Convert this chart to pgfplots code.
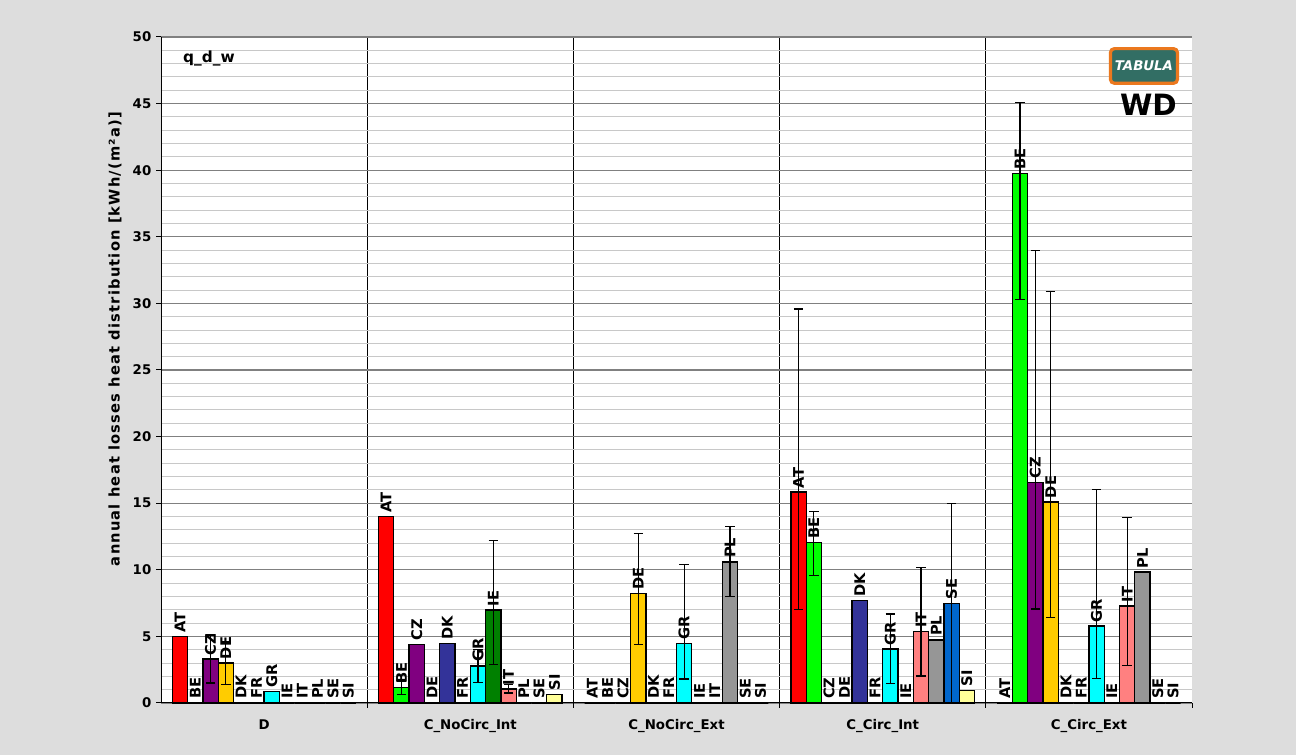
\documentclass[border=0pt]{standalone}
\usepackage{fontspec}
\setmainfont{DejaVu Sans}
\usepackage{pgfplots}
\pgfplotsset{compat=1.18}
\usepackage{pgfplotstable}

\definecolor{bgc}{RGB}{221,221,221}
\definecolor{cAT}{RGB}{255,0,0}
\definecolor{cBE}{RGB}{0,255,0}
\definecolor{cCZ}{RGB}{128,0,128}
\definecolor{cDE}{RGB}{255,204,0}
\definecolor{cDK}{RGB}{51,51,153}
\definecolor{cFR}{RGB}{255,102,0}
\definecolor{cGR}{RGB}{0,255,255}
\definecolor{cIE}{RGB}{0,128,0}
\definecolor{cIT}{RGB}{255,128,128}
\definecolor{cPL}{RGB}{150,150,150}
\definecolor{cSE}{RGB}{0,102,204}
\definecolor{cSI}{RGB}{255,255,153}
\definecolor{majgrid}{RGB}{128,128,128}
\definecolor{mingrid}{RGB}{200,200,200}
\definecolor{logobg}{RGB}{50,110,100}
\definecolor{logoedge}{RGB}{235,120,30}

% x = group (D, C_NoCirc_Int, C_NoCirc_Ext, C_Circ_Int, C_Circ_Ext)
\pgfplotstableread{
x y ep em
0 5.0 0 0
1 14.0 0 0
2 0 0 0
3 15.84 13.74 8.81
4 0 0 0
}\tabAT
\pgfplotstableread{
x y ep em
0 0 0 0
1 1.15 0.5 0.5
2 0 0 0
3 12.06 2.3 2.5
4 39.77 5.34 9.49
}\tabBE
\pgfplotstableread{
x y ep em
0 3.3 1.8 1.8
1 4.4 0 0
2 0 0 0
3 0 0 0
4 16.56 17.4 9.5
}\tabCZ
\pgfplotstableread{
x y ep em
0 3.0 1.6 1.6
1 0 0 0
2 8.21 4.5 3.83
3 0 0 0
4 15.08 15.84 8.65
}\tabDE
\pgfplotstableread{
x y ep em
0 0 0 0
1 4.48 0 0
2 0 0 0
3 7.68 0 0
4 0 0 0
}\tabDK
\pgfplotstableread{
x y ep em
0 0 0 0
1 0 0 0
2 0 0 0
3 0 0 0
4 0 0 0
}\tabFR
\pgfplotstableread{
x y ep em
0 0.85 0 0
1 2.78 1.25 1.25
2 4.48 5.9 2.68
3 4.05 2.63 2.58
4 5.77 10.25 3.92
}\tabGR
\pgfplotstableread{
x y ep em
0 0 0 0
1 6.98 5.2 4.1
2 0 0 0
3 0 0 0
4 0 0 0
}\tabIE
\pgfplotstableread{
x y ep em
0 0 0 0
1 1.05 0.35 0.3
2 0 0 0
3 5.35 4.81 3.32
4 7.27 6.63 4.46
}\tabIT
\pgfplotstableread{
x y ep em
0 0 0 0
1 0 0 0
2 10.59 2.67 2.58
3 4.73 0 0
4 9.83 0 0
}\tabPL
\pgfplotstableread{
x y ep em
0 0 0 0
1 0 0 0
2 0 0 0
3 7.48 7.48 7.48
4 0 0 0
}\tabSE
\pgfplotstableread{
x y ep em
0 0 0 0
1 0.65 0 0
2 0 0 0
3 0.95 0 0
4 0 0 0
}\tabSI

\pgfplotsset{
  cbar/.style n args={2}{
    ybar, bar width=0.0742, bar shift=0pt,
    fill=#1, draw=black, line width=1pt,
    nodes near coords={#2},
    every node near coord/.append style={rotate=90, anchor=west,
      font=\fontsize{11}{13}\selectfont\bfseries, inner sep=2.5pt, text=black},
    error bars/.cd, y dir=both, y explicit,
      error bar style={black, line width=0.9pt},
      error mark options={rotate=90, mark size=3.5pt, black, line width=0.9pt},
  },
}
% position of a country's bar inside its group
\newcommand{\bars}[4]{%
  \addplot[cbar={#1}{#2}] table[x expr=\thisrow{x}+#3, y=y,
    y error plus=ep, y error minus=em] {#4};}

\begin{document}
\begin{tikzpicture}
\fill[bgc] (0,0) rectangle (972pt,566.25pt);
\begin{axis}[
  at={(120.75pt,39pt)}, anchor=south west,
  scale only axis, width=773.25pt, height=499.5pt,
  xmin=-0.5, xmax=4.5, ymin=0, ymax=50,
  axis background/.style={fill=white},
  axis x line*=bottom, axis y line*=left,
  axis line style={black, line width=0.75pt},
  clip=false,
  tick align=outside,
  major tick length=3.75pt, minor tick length=3.75pt,
  xtick={0,1,2,3,4},
  xticklabels={D, C\_NoCirc\_Int, C\_NoCirc\_Ext, C\_Circ\_Int, C\_Circ\_Ext},
  major x tick style={draw=none},
  minor xtick={0.5,1.5,2.5,3.5},
  xminorgrids,
  minor x grid style={black, line width=0.75pt},
  minor x tick style={black, line width=0.75pt},
  extra x ticks={4.5}, extra x tick labels={},
  extra x tick style={grid=none, major x tick style={black, draw=black, line width=0.75pt}},
  ytick={0,5,...,50},
  minor ytick={1,2,3,4,6,7,8,9,11,12,13,14,16,17,18,19,21,22,23,24,26,27,28,29,31,32,33,34,36,37,38,39,41,42,43,44,46,47,48,49},
  ymajorgrids, yminorgrids,
  major y grid style={majgrid, line width=0.9pt},
  minor y grid style={mingrid, line width=0.75pt},
  major y tick style={black, line width=0.75pt},
  minor y tick style={draw=none},
  tick label style={font=\fontsize{10}{12}\selectfont\bfseries},
  x tick label style={yshift=-5pt},
  /pgf/number format/assume math mode=true,
  ylabel={annual heat losses heat distribution [kWh/(m²a)]},
  ylabel style={at={(axis description cs:-0.0446,0.5465)}, anchor=center,
    font=\fontsize{11}{13}\selectfont\bfseries\addfontfeature{LetterSpace=8}},
]
\bars{cAT}{AT}{-0.4081}{\tabAT}
\bars{cBE}{BE}{-0.3339}{\tabBE}
\bars{cCZ}{CZ}{-0.2597}{\tabCZ}
\bars{cDE}{DE}{-0.1855}{\tabDE}
\bars{cDK}{DK}{-0.1113}{\tabDK}
\bars{cFR}{FR}{-0.0371}{\tabFR}
\bars{cGR}{GR}{0.0371}{\tabGR}
\bars{cIE}{IE}{0.1113}{\tabIE}
\bars{cIT}{IT}{0.1855}{\tabIT}
\bars{cPL}{PL}{0.2597}{\tabPL}
\bars{cSE}{SE}{0.3339}{\tabSE}
\bars{cSI}{SI}{0.4081}{\tabSI}

\node[anchor=west, inner sep=0pt, font=\fontsize{11.5}{13}\selectfont\bfseries]
  at (axis description cs:0.0213,0.968) {q\_d\_w};
\node[anchor=east, inner sep=0pt, font=\fontsize{22}{24}\selectfont\bfseries]
  at (axis description cs:0.9855,0.898) {WD};
\node[fill=logobg, draw=logoedge, line width=2.4pt, rounded corners=3pt,
  minimum width=48pt, minimum height=26pt, text=white,
  font=\fontsize{10}{11}\selectfont\bfseries\itshape]
  at (axis description cs:0.9534,0.9565) {TABULA};
\end{axis}
\pgfresetboundingbox
\path (0,0) rectangle (972pt,566.25pt);
\end{tikzpicture}
\end{document}
